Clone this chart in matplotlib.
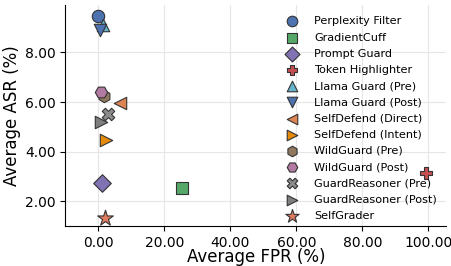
import matplotlib.pyplot as plt

# method names, FPR (x) and ASR (y) values
methods = ["Perplexity Filter", "GradientCuff", "Prompt Guard", "Token Highlighter",
           "Llama Guard (Pre)", "Llama Guard (Post)", "SelfDefend (Direct)",
           "SelfDefend (Intent)", "WildGuard (Pre)", "WildGuard (Post)",
           "GuardReasoner (Pre)", "GuardReasoner (Post)", "SelfGrader"]
fpr = [0.0, 25.2, 1.0, 99.4, 1.3, 0.4, 6.7, 2.2, 1.6, 0.7, 2.8, 0.7, 1.9]
asr = [9.48, 2.55, 2.75, 3.13, 9.12, 8.92, 5.95, 4.48, 6.25, 6.42, 5.52, 5.18, 1.33]

markers = ["o", "s", "D", "P", "^", "v", "<", ">", "h", "H", "X", ">", "*"]
colors = ["#4c72b0", "#55a868", "#8172b3", "#c44e52", "#64b5cd", "#4c72b0",
          "#dd8452", "#e58a0a", "#937860", "#b07aa1", "#8c8c8c", "#7f7f7f", "#e07b5e"]
sizes = [80, 80, 80, 80, 80, 80, 80, 80, 80, 80, 80, 80, 140]

fig, ax = plt.subplots(figsize=(4.51, 2.66), dpi=100)

for name, x, y, m, c, s in zip(methods, fpr, asr, markers, colors, sizes):
    ax.scatter(x, y, marker=m, s=s, color=c, edgecolors="#333333", linewidths=0.8,
               label=name, zorder=3)

ax.set_xlim(-10, 105.5)
ax.set_ylim(1.0, 9.9)
ax.set_xticks([0, 20, 40, 60, 80, 100])
ax.set_yticks([2, 4, 6, 8])
ax.xaxis.set_major_formatter(lambda v, p: f"{v:.2f}")
ax.yaxis.set_major_formatter(lambda v, p: f"{v:.2f}")
ax.tick_params(labelsize=10)
ax.set_xlabel("Average FPR (%)", fontsize=12, labelpad=-1)
ax.set_ylabel("Average ASR (%)", fontsize=12, labelpad=3)
ax.grid(True, color="#e6e6e6", linewidth=0.8, zorder=0)
ax.spines["top"].set_visible(False)
ax.spines["right"].set_visible(False)

ax.legend(loc="upper left", frameon=False, fontsize=8.1, handletextpad=0.95,
          labelspacing=0.55, borderaxespad=0, borderpad=0.2, markerscale=0.85,
          bbox_to_anchor=(0.56, 0.96))

plt.subplots_adjust(left=0.145, right=0.99, top=0.98, bottom=0.15)
plt.savefig("out.png")
